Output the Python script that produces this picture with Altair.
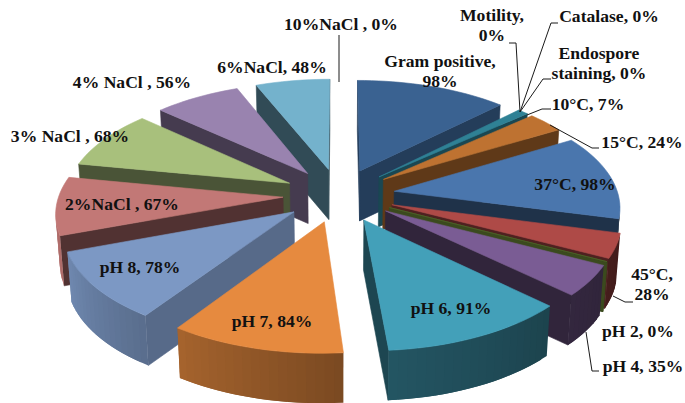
import math
import altair as alt
import numpy as np

# Slices, clockwise from twelve o'clock
labels = ["Gram positive,\n98%", "Motility,\n0%", "Catalase, 0%", "Endospore\nstaining, 0%",
          "10°C, 7%", "15°C, 24%", "37°C, 98%", "45°C,\n28%", "pH 2, 0%", "pH 4, 35%",
          "pH 6, 91%", "pH 7, 84%", "pH 8, 78%", "2%NaCl , 67%", "3% NaCl , 68%",
          "4% NaCl , 56%", "6%NaCl, 48%", "10%NaCl , 0%"]
values = [98, 0, 0, 0, 7, 24, 98, 28, 0, 35, 91, 84, 78, 67, 68, 56, 48, 0]
colors = ["#3A6291", "#A5413E", "#7F9A48", "#6F5392", "#2F8195", "#BE7231", "#4A76AD", "#AE4A47",
          "#4F6228", "#7A5C94", "#43A0B9", "#E68A3F", "#7C98C4", "#C27876", "#A8C07C", "#9983AF",
          "#74B2CC", "#F2A66B"]
radial_shade = [0.62, 0.4, 0.4, 0.4, 0.55, 0.5, 0.42, 0.45, 0.75, 0.4, 0.44, 0.5, 0.7, 0.42, 0.44, 0.45, 0.42, 0.4]

# Placement of the manually arranged data labels (first line of each)
label_x = [440, 492, 609, 599, 588, 642, 575, 652, 638, 643, 451, 272, 140, 122, 70, 132, 272, 341]
label_y = [62, 16, 17, 54, 105, 143, 185, 275, 332, 367, 309, 322, 268, 205, 137, 83, 68, 25]

# Leader lines
leaders = [
    [(339, 35), (339, 82)],
    [(509, 43), (516, 43), (520, 112)],
    [(558, 23), (551, 23), (520, 112)],
    [(551, 79), (543, 79), (520, 112)],
    [(551, 109), (542, 109), (527, 115)],
    [(599, 148), (592, 148), (550, 125)],
    [(633, 302), (625, 302), (613, 296)],
    [(599, 371), (592, 371), (586, 332)],
]

# Camera model of the tilted, exploded pie
CX, CY = 339.0, 195.0
AX, AY = 224.0, 107.5
PERSP = 0.126
EXPLODE = 0.25
DEPTH = 50.0
WALL_TAPER = 0.985
KEEP_ZERO = {"pH 2, 0%"}
BACK_TO_FRONT = [16, 15, 14, 13, 12, 11, 0, 4, 5, 6, 7, 8, 9, 10]


def project(px, py):
    d = 1.0 / (1.0 - PERSP * py)
    return CX + AX * px * d, CY + AY * py * d


def drop(p):
    return CX + (p[0] - CX) * WALL_TAPER, p[1] + DEPTH


def darken(hex_color, k):
    rgb = [int(hex_color[i:i + 2], 16) for i in (1, 3, 5)]
    return "#" + "".join(f"{int(round(c * k)):02x}" for c in rgb)


def rim_shade(theta):
    return float(np.interp(theta, [90, 133, 175, 214, 250, 285], [0.36, 0.42, 0.53, 0.72, 0.9, 0.9]))


def face(points, color, order, outlined=True):
    ring = [[float(x), float(y)] for x, y in points]
    ring.append(ring[0])
    return {"type": "Feature", "geometry": {"type": "Polygon", "coordinates": [ring]},
            "properties": {"color": color, "edge": color if outlined else "none", "order": order}}


total = sum(values)
edges = np.concatenate([[0.0], np.cumsum(values)]) * 360.0 / total
features = []
for idx in BACK_TO_FRONT:
    if values[idx] == 0 and labels[idx] not in KEEP_ZERO:
        continue
    start, end = edges[idx], edges[idx + 1]
    mid = math.radians((start + end) / 2)
    ax, ay = EXPLODE * math.sin(mid), -EXPLODE * math.cos(mid)
    steps = max(1, int((end - start) / 2))
    thetas = [start + (end - start) * k / steps for k in range(steps + 1)]
    rim = [project(ax + math.sin(math.radians(t)), ay - math.cos(math.radians(t))) for t in thetas]
    apex = project(ax, ay)
    col = colors[idx]
    outline = [apex] + rim

    # radial walls first, only where they face the viewer
    for a, b in ((apex, rim[0]), (rim[-1], apex)):
        if b[0] < a[0] or values[idx] == 0:
            features.append(face([a, b, drop(b), drop(a)], darken(col, radial_shade[idx]), len(features)))
    # outer wall, shaded segment by segment; each quad runs under the next one
    for k in range(steps):
        a, b = rim[k], rim[min(k + 2, steps)]
        if rim[k + 1][0] < a[0]:
            shade = rim_shade((thetas[k] + thetas[k + 1]) / 2)
            features.append(face([a, b, drop(b), drop(a)], darken(col, shade), len(features), outlined=False))
    features.append(face(outline, col, len(features)))

WIDTH, HEIGHT = 685, 403

shapes = alt.Chart(alt.Data(values=features)).mark_geoshape(strokeWidth=0.6).encode(
    fill=alt.Fill("properties.color:N", scale=None),
    stroke=alt.Stroke("properties.edge:N", scale=None),
    order=alt.Order("properties.order:Q"),
).project(type="identity", scale=1, translate=[0, 0])

x_scale = alt.Scale(domain=[0, WIDTH], nice=False, zero=False)
y_scale = alt.Scale(domain=[HEIGHT, 0], nice=False, zero=False)

leader_rows = [{"line": i, "step": j, "x": p[0], "y": p[1]}
               for i, line in enumerate(leaders) for j, p in enumerate(line)]
leader_marks = alt.Chart(alt.Data(values=leader_rows)).mark_line(color="#1a1a1a", strokeWidth=1).encode(
    x=alt.X("x:Q", scale=x_scale, axis=None),
    y=alt.Y("y:Q", scale=y_scale, axis=None),
    detail="line:N",
    order="step:Q",
)

text_rows = [{"t": t, "x": x, "y": y} for t, x, y in zip(labels, label_x, label_y)]
text_marks = alt.Chart(alt.Data(values=text_rows)).mark_text(
    font="Liberation Serif", fontWeight="bold", fontSize=17.6, color="#111111",
    lineBreak="\n", lineHeight=20, align="center", baseline="middle",
).encode(
    x=alt.X("x:Q", scale=x_scale, axis=None),
    y=alt.Y("y:Q", scale=y_scale, axis=None),
    text="t:N",
)

chart = alt.layer(shapes, leader_marks, text_marks).properties(
    width=WIDTH, height=HEIGHT, padding=0, autosize=alt.AutoSizeParams(type="none"),
    background="white",
).configure_view(stroke=None)

chart.save("out.html", embed_options={"renderer": "svg", "actions": False})
